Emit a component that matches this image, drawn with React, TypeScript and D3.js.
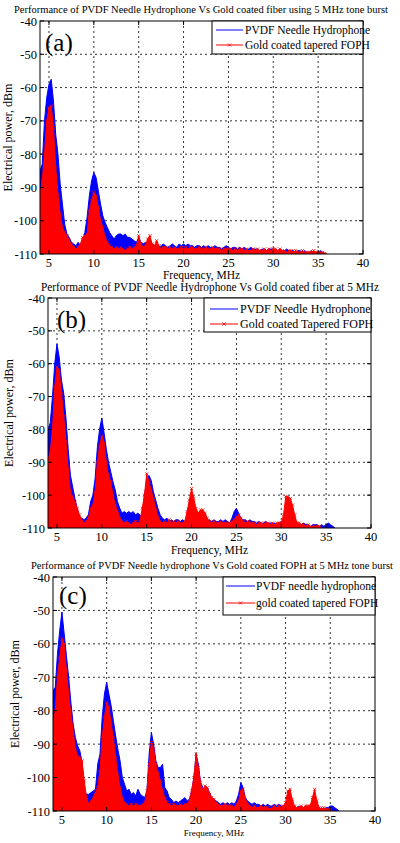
import React from "react";
import * as d3 from "d3";

// Frequency sampling grid (MHz): 4.00, 4.25, ... 36.00
const freqs: number[] = d3.range(129).map((i) => 4 + i * 0.25);

const xTicks = [5, 10, 15, 20, 25, 30, 35, 40];
const yTicks = [-40, -50, -60, -70, -80, -90, -100, -110];

// Panel (a)
const aBlue = [
  -85, -83, -70, -63, -59, -57.5, -64, -74, -80, -89, -95, -101, -104, -105, -106.5, -107,
  -107.5, -106.5, -107.5, -106, -103.5, -99, -92.5, -88, -85.5, -87, -91, -95, -98.5, -100.5, -102, -103.5,
  -104.5, -105.5, -104.5, -104, -104, -104.5, -104, -105, -105, -105.5, -106, -106.5, -105, -106.5, -107, -106.5,
  -107, -106, -107, -107.5, -107, -108, -107.5, -107, -107.5, -108, -107.5, -107, -107.5, -108, -107, -107.5,
  -107, -107.5, -107, -107.5, -107.5, -108, -107.5, -107.5, -108, -107.5, -108, -107.5, -108, -108, -107.5, -108,
  -108, -108.5, -108, -107.5, -108, -108.5, -108, -108, -108.5, -108, -108.5, -108, -108.5, -108.5, -108, -108.5,
  -108.5, -108.5, -109, -108.5, -108.5, -109, -108.5, -108.5, -108.5, -109, -109, -108.5, -109, -109, -108.5, -109,
  -109, -109, -109.5, -109, -109, -109.5, -109, -109.5, -109.5, -109, -109.5, -109.5, -109.5, -109, -109.5, -110,
  -110,
];
const aRed = [
  -92, -88, -80, -70, -66, -65.5, -72, -84, -92, -98, -102, -103.5, -104.5, -106, -107, -108,
  -108.5, -108, -107, -105, -104.5, -104, -97, -94, -91.5, -92.5, -96, -100, -102, -105, -106.5, -107.5,
  -108, -108.5, -108, -108.5, -108, -108.5, -109, -108.5, -108, -108.5, -108, -107.5, -104.5, -107, -108, -107.5,
  -105.5, -104.5, -107, -107.5, -106, -107.5, -108.5, -108, -108, -108.5, -108, -108.5, -108, -108.5, -108.5, -108,
  -108.5, -108, -108.5, -108, -108, -108.5, -108.5, -108, -108.5, -108.5, -108, -108.5, -108.5, -108, -108.5, -108.5,
  -108.5, -109, -108.5, -108.5, -108.5, -108.5, -109, -108.5, -109, -108.5, -108.5, -109, -108.5, -109, -109, -108.5,
  -109, -108.5, -109, -109, -108.5, -109, -108.5, -109, -108.5, -108.5, -109, -108.5, -109, -109, -109.5, -109,
  -109, -109.5, -109, -109.5, -109.5, -109, -109.5, -109.5, -109.5, -109.5, -109, -109.5, -109.5, -109.5, -109.5, -109.8,
  -110,
];

// Panel (b)
const bBlue = [
  -80, -78, -70, -60, -54, -58, -65, -69, -76.5, -86, -94, -97.5, -101, -104, -106.5, -107,
  -107.5, -107, -106, -102, -100, -95, -85.5, -80, -76.5, -81, -86, -90, -93, -96, -98.5, -102,
  -104, -105.5, -105, -105.5, -105, -105.5, -105, -106, -105.5, -106, -107, -100, -96, -94, -95.5, -99,
  -101.5, -104, -106, -107, -107.5, -107, -108, -107.5, -108, -107.5, -107.5, -108, -107.5, -108, -106.5, -105,
  -103, -104, -106, -107, -107, -107.5, -107, -108, -107.5, -108, -107.5, -108, -108, -107.5, -108, -107.5,
  -108, -108.5, -107, -105, -104, -105.5, -107, -107.5, -107.5, -108, -107.5, -108, -108, -108.5, -108, -108.5,
  -108.5, -108, -108.5, -108.5, -108.5, -108.5, -109, -108.5, -108, -108.5, -108.5, -109, -108.5, -109, -108.5, -109,
  -109, -109, -108.5, -109, -109, -109.5, -109, -109, -109, -109.5, -109, -109.5, -109, -108.5, -109, -109.5,
  -110,
];
const bRed = [
  -89, -87, -80, -67, -61, -62, -69, -76, -83.5, -92, -99, -100.5, -102, -104, -106, -107.5,
  -108.5, -108, -107, -104, -103, -99, -90, -85, -82, -84, -90, -94, -96, -100, -103, -105,
  -107, -108, -108.5, -108, -108.5, -109, -108.5, -108, -108.5, -108, -104, -100, -93.5, -96, -98.5, -101,
  -104, -106.5, -108, -108.5, -108, -108.5, -107.5, -108.5, -108, -108.5, -108, -108.5, -108.5, -108, -105, -101.5,
  -98, -101, -104, -105.5, -104.5, -104.5, -105.5, -107, -108, -108.5, -108, -108.5, -108.5, -108, -108.5, -108.5,
  -108.5, -108.5, -108, -107.5, -106.5, -106, -107, -108, -108.5, -108, -108.5, -108.5, -108.5, -109, -108.5, -108.5,
  -109, -108.5, -108.5, -109, -108.5, -109, -108.5, -108.5, -108.5, -106, -100.5, -100.5, -101, -103, -106, -108.5,
  -108.5, -109, -109, -109.5, -109, -109.5, -109.5, -109.5, -109.5, -109.5, -110, -110, -110, -110, -110, -110,
  -110,
];

// Panel (c)
const cBlue = [
  -74, -73, -63, -56, -50.5, -57, -63.5, -70, -77.5, -84, -88, -90.5, -92, -95.5, -104, -105,
  -105, -104.5, -104, -103.5, -96, -93, -82, -75, -71.5, -75, -78.5, -83, -87.5, -91.5, -95, -100,
  -102, -104, -103.5, -105, -104.5, -105.5, -103.5, -105, -105.5, -106, -104, -93, -86.5, -90, -95, -97,
  -97, -96, -103, -104, -106, -106.5, -107.5, -107, -107.5, -107, -106.5, -106, -107, -106.5, -104, -100,
  -93, -96, -101.5, -103, -104, -103, -104.5, -106, -106.5, -107, -107.5, -108, -107.5, -108, -107.5, -108,
  -107.5, -108, -107, -105, -101.5, -103, -106, -107, -107.5, -108, -107.5, -108, -108, -108.5, -108, -108.5,
  -108, -108.5, -108.5, -108, -108.5, -108, -108.5, -108.5, -108.5, -108.5, -109, -108.5, -108.5, -109, -108.5, -109,
  -109, -108.5, -109, -109, -109, -108.5, -109, -109.5, -109, -109.5, -109, -109, -108.5, -108.5, -109, -109.5,
  -110,
];
const cRed = [
  -84, -80, -70, -64, -58.5, -60, -68, -75, -81, -86, -91.5, -93.5, -94, -95, -101, -106,
  -108, -107, -106, -104.5, -103, -98, -88, -82, -77.5, -79, -84, -88, -94, -99, -103, -106,
  -107.5, -108, -108.5, -108, -108.5, -108, -108.5, -108.5, -108, -107.5, -104, -96, -89.5, -91.5, -96, -98.5,
  -101, -104, -106, -107.5, -108, -108.5, -108, -108.5, -108.5, -108, -108.5, -108, -108, -107, -104, -100,
  -93, -97, -101.5, -104, -102.5, -103, -105, -106, -106.5, -107.5, -108, -108.5, -108.5, -108, -108.5, -108.5,
  -108.5, -109, -108, -107, -104, -103.5, -106.5, -108, -108.5, -109, -108.5, -109, -109, -108.5, -109, -109,
  -109, -109.5, -109, -108.5, -109, -108.5, -109, -108.5, -107.5, -104, -103.5, -106.5, -108.5, -109, -109, -108.5,
  -109, -108.5, -108.5, -108.5, -106, -103.5, -107, -109, -109.5, -109, -109.5, -109.5, -109.5, -110, -110, -110,
  -110,
];

const seriesBlueNames = ["PVDF Needle Hydrophone", "PVDF Needle Hydrophone", "PVDF needle hydrophone"];
const seriesRedNames = ["Gold coated tapered FOPH", "Gold coated Tapered FOPH", "gold coated tapered FOPH"];
const titles = [
  "Performance of PVDF Needle Hydrophone Vs Gold coated fiber using 5 MHz tone burst",
  "Performance of PVDF Needle Hydrophone Vs Gold coated fiber at 5 MHz",
  "Performance of PVDF Needle hydrophone  Vs Gold coated FOPH at 5 MHz tone burst",
];
const panelTags = ["(a)", "(b)", "(c)"];

const FONT = "Liberation Serif";

type PanelCfg = {
  left: number; right: number; top: number; bottom: number;
  blue: number[]; red: number[];
  title: string; titleX: number; titleY: number; titleLen: number; titleSize: number;
  tag: string; tagX: number; tagY: number;
  legend: { x0: number; x1: number; y0: number; y1: number; lx0: number; lx1: number; tx: number; r1: number; r2: number; size: number };
  blueName: string; redName: string;
  xlabY: number; xlabSize: number; ylabX: number;
};

const panels: PanelCfg[] = [
  {
    left: 40, right: 363, top: 21, bottom: 254, blue: aBlue, red: aRed,
    title: titles[0], titleX: 201, titleY: 12.5, titleLen: 374, titleSize: 10.4,
    tag: panelTags[0], tagX: 45, tagY: 51,
    legend: { x0: 212, x1: 363, y0: 21, y1: 54, lx0: 216, lx1: 243, tx: 245, r1: 30, r2: 45, size: 11.5 },
    blueName: seriesBlueNames[0], redName: seriesRedNames[0],
    xlabY: 279, xlabSize: 11.5, ylabX: 12,
  },
  {
    left: 48, right: 371, top: 298, bottom: 528, blue: bBlue, red: bRed,
    title: titles[1], titleX: 210, titleY: 291, titleLen: 338, titleSize: 11.5,
    tag: panelTags[1], tagX: 57, tagY: 328,
    legend: { x0: 204, x1: 371, y0: 298, y1: 332, lx0: 210, lx1: 238, tx: 240, r1: 309, r2: 324, size: 12 },
    blueName: seriesBlueNames[1], redName: seriesRedNames[1],
    xlabY: 554, xlabSize: 11.5, ylabX: 13,
  },
  {
    left: 53, right: 375, top: 577, bottom: 811, blue: cBlue, red: cRed,
    title: titles[2], titleX: 212, titleY: 568.5, titleLen: 362, titleSize: 10.4,
    tag: panelTags[2], tagX: 59, tagY: 604,
    legend: { x0: 223, x1: 375, y0: 577, y1: 615, lx0: 226, lx1: 255, tx: 256, r1: 586, r2: 603, size: 11.5 },
    blueName: seriesBlueNames[2], redName: seriesRedNames[2],
    xlabY: 836, xlabSize: 9, ylabX: 19,
  },
];

function Panel({ p, idx }: { p: PanelCfg; idx: number }) {
  const x = d3.scaleLinear().domain([4, 40]).range([p.left, p.right]);
  const y = d3.scaleLinear().domain([-110, -40]).range([p.bottom, p.top]);
  const area = d3
    .area<number>()
    .x((_, i) => x(freqs[i]))
    .y0(y(-110))
    .y1((v) => y(Math.max(v, -110)));
  const line = d3
    .line<number>()
    .x((_, i) => x(freqs[i]))
    .y((v) => y(Math.max(v, -110)));
  const clipId = `clip${idx}`;
  const blueEnd = p.blue.findIndex((v, i) => i > 100 && v <= -110);
  const redEnd = p.red.findIndex((v, i) => i > 100 && v <= -110);
  const bData = p.blue.slice(0, blueEnd < 0 ? p.blue.length : blueEnd + 1);
  const rData = p.red.slice(0, redEnd < 0 ? p.red.length : redEnd + 1);
  const L = p.legend;
  return (
    <g>
      <defs>
        <clipPath id={clipId}>
          <rect x={p.left} y={p.top} width={p.right - p.left} height={p.bottom - p.top} />
        </clipPath>
      </defs>
      <rect x={p.left} y={p.top} width={p.right - p.left} height={p.bottom - p.top} fill="#fff" />
      {xTicks.filter((t) => t > 4 && t < 40).map((t) => (
        <line key={"gx" + t} x1={x(t)} x2={x(t)} y1={p.top} y2={p.bottom} stroke="#000" strokeWidth={0.8} strokeDasharray="2,3" />
      ))}
      {yTicks.filter((t) => t > -110 && t < -40).map((t) => (
        <line key={"gy" + t} x1={p.left} x2={p.right} y1={y(t)} y2={y(t)} stroke="#000" strokeWidth={0.8} strokeDasharray="2,3" />
      ))}
      <g clipPath={`url(#${clipId})`}>
        <path d={area(bData) || ""} fill="#0000ff" />
        <path d={line(bData) || ""} fill="none" stroke="#0000ff" strokeWidth={1} />
        <path d={area(rData) || ""} fill="#ff0000" />
        <path d={line(rData) || ""} fill="none" stroke="#ff0000" strokeWidth={1} />
        {rData.map((v, i) =>
          v > -109.9 ? (
            <path
              key={"m" + i}
              d={`M${x(freqs[i]) - 1.5},${y(v) - 1.5}l3,3M${x(freqs[i]) - 1.5},${y(v) + 1.5}l3,-3`}
              stroke="#ff0000"
              strokeWidth={0.8}
            />
          ) : null
        )}
      </g>
      <rect x={p.left} y={p.top} width={p.right - p.left} height={p.bottom - p.top} fill="none" stroke="#000" strokeWidth={1} />
      {xTicks.map((t) => (
        <g key={"tx" + t}>
          <line x1={x(t)} x2={x(t)} y1={p.bottom} y2={p.bottom - 4} stroke="#000" />
          <line x1={x(t)} x2={x(t)} y1={p.top} y2={p.top + 4} stroke="#000" />
          <text x={x(t)} y={p.bottom + 13} textAnchor="middle" fontFamily={FONT} fontSize={12.5}>
            {t}
          </text>
        </g>
      ))}
      {yTicks.map((t) => (
        <g key={"ty" + t}>
          <line x1={p.left} x2={p.left + 4} y1={y(t)} y2={y(t)} stroke="#000" />
          <line x1={p.right} x2={p.right - 4} y1={y(t)} y2={y(t)} stroke="#000" />
          <text x={p.left - 3} y={y(t) + 4.5} textAnchor="end" fontFamily={FONT} fontSize={12.5}>
            {t}
          </text>
        </g>
      ))}
      <text x={p.titleX} y={p.titleY} textAnchor="middle" fontFamily={FONT} fontSize={p.titleSize} textLength={p.titleLen} lengthAdjust="spacingAndGlyphs">
        {p.title}
      </text>
      <text x={(p.left + p.right) / 2} y={p.xlabY} textAnchor="middle" fontFamily={FONT} fontSize={p.xlabSize}>
        Frequency, MHz
      </text>
      <text
        transform={`translate(${p.ylabX},${(p.top + p.bottom) / 2}) rotate(-90)`}
        textAnchor="middle"
        fontFamily={FONT}
        fontSize={12}
      >
        Electrical power, dBm
      </text>
      <text x={p.tagX} y={p.tagY} fontFamily={FONT} fontSize={25}>
        {p.tag}
      </text>
      <rect x={L.x0} y={L.y0} width={L.x1 - L.x0} height={L.y1 - L.y0} fill="#fff" stroke="#000" strokeWidth={1} />
      <line x1={L.lx0} x2={L.lx1} y1={L.r1} y2={L.r1} stroke="#0000ff" strokeWidth={1} />
      <text x={L.tx} y={L.r1 + 4} fontFamily={FONT} fontSize={L.size}>
        {p.blueName}
      </text>
      <line x1={L.lx0} x2={L.lx1} y1={L.r2} y2={L.r2} stroke="#ff0000" strokeWidth={1} />
      <path
        d={`M${(L.lx0 + L.lx1) / 2 - 1.5},${L.r2 - 1.5}l3,3M${(L.lx0 + L.lx1) / 2 - 1.5},${L.r2 + 1.5}l3,-3`}
        stroke="#ff0000"
        strokeWidth={0.8}
      />
      <text x={L.tx} y={L.r2 + 4} fontFamily={FONT} fontSize={L.size}>
        {p.redName}
      </text>
    </g>
  );
}

export default function App() {
  return (
    <svg
      width={400}
      height={843}
      viewBox="0 0 400 843"
      style={{ position: "absolute", left: 0, top: 0, background: "#fff" }}
    >
      <rect x={0} y={0} width={400} height={843} fill="#fff" />
      {panels.map((p, i) => (
        <Panel key={i} p={p} idx={i} />
      ))}
    </svg>
  );
}
